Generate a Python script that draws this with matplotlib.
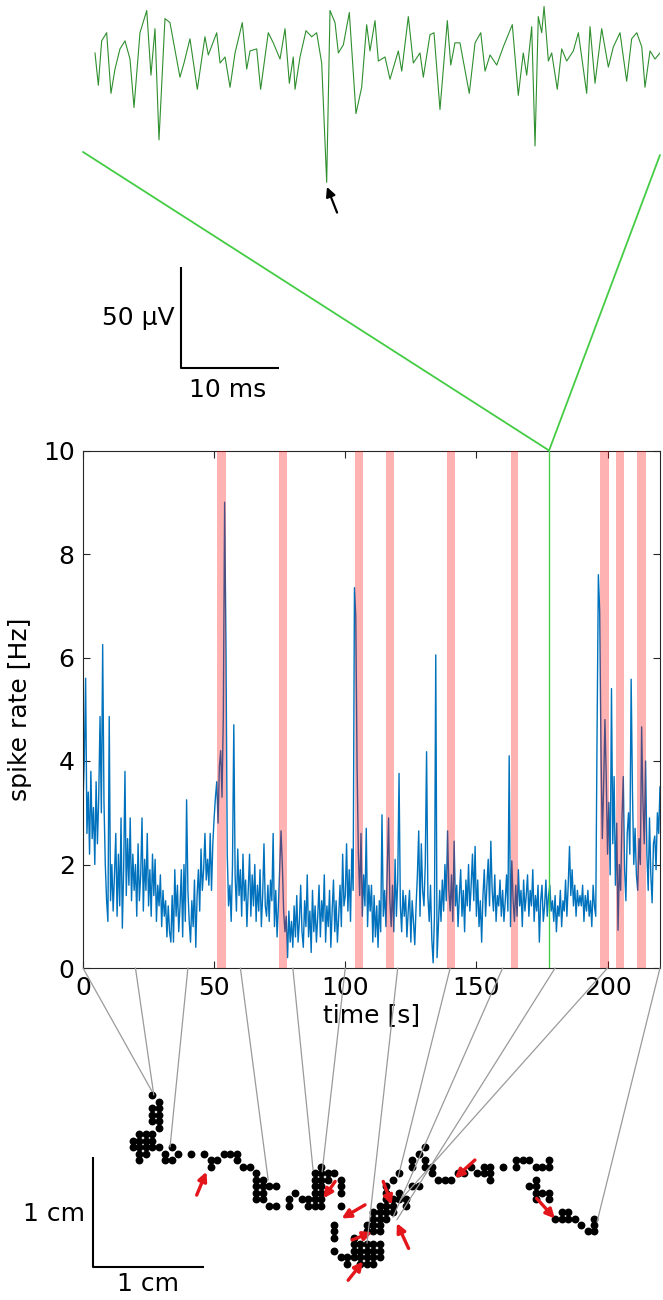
"""Spike rate over a session, with a zoomed raw trace above and the
animal's trajectory below (links mark positions at 20 s steps)."""
import numpy as np
import matplotlib
matplotlib.use("Agg")
import matplotlib.pyplot as plt
from matplotlib.patches import ConnectionPatch

plt.rcParams['font.family'] = 'DejaVu Sans'
plt.rcParams['font.size'] = 18

W, H, DPI = 663, 1300, 100

# ── spike rate (Hz), sampled every 0.5 s from 0 to 220 s ────────────────────
rate_hz = [
    3.2, 4.0, 5.6, 2.6, 3.4, 2.2, 3.8, 2.5, 3.1, 2.0, 3.6, 2.4, 3.3, 4.86, 3.0, 6.25, 3.2, 2.0, 1.3, 0.9,
    4.86, 1.3, 2.0, 1.1, 1.8, 2.6, 1.0, 2.2, 1.2, 2.9, 0.77, 1.9, 3.8, 1.4, 2.5, 1.6, 2.9, 1.3, 2.2, 1.5,
    2.0, 1.0, 2.4, 1.3, 1.8, 2.9, 1.1, 2.1, 1.5, 2.6, 1.2, 1.9, 1.0, 2.2, 1.4, 2.1, 0.9, 1.6, 1.2, 1.8,
    0.8, 1.5, 1.0, 1.3, 0.6, 1.2, 0.7, 0.5, 1.4, 0.5, 1.9, 1.0, 1.6, 0.7, 1.2, 1.9, 0.6, 2.0, 0.9, 3.25,
    1.5, 0.9, 0.5, 1.3, 0.8, 1.7, 0.4, 1.4, 1.9, 1.1, 2.3, 1.5, 1.9, 2.6, 1.7, 2.1, 1.6, 2.6, 1.5, 2.4,
    2.9, 3.3, 3.6, 2.8, 3.9, 4.2, 3.3, 4.85, 9.0, 6.3, 2.2, 1.2, 1.6, 0.9, 2.0, 4.7, 1.8, 1.1, 2.3, 1.4,
    1.9, 1.0, 2.2, 1.3, 1.7, 0.8, 1.5, 2.2, 1.0, 1.8, 1.2, 2.0, 0.9, 1.6, 1.1, 1.9, 0.8, 1.4, 2.4, 1.2,
    1.0, 1.6, 0.9, 1.7, 1.3, 2.6, 0.8, 1.5, 0.6, 1.2, 1.9, 2.65, 2.0, 1.1, 0.7, 1.0, 0.2, 1.1, 0.5, 0.9,
    0.4, 1.2, 0.6, 1.4, 0.5, 0.9, 1.6, 0.7, 0.4, 1.3, 0.8, 1.8, 0.6, 1.1, 0.3, 1.5, 0.7, 1.2, 0.5, 1.0,
    1.6, 0.6, 1.3, 0.9, 1.8, 0.5, 1.2, 0.8, 1.5, 0.4, 1.1, 1.7, 0.7, 1.3, 0.5, 1.0, 1.6, 0.8, 2.2, 1.2,
    1.4, 2.4, 1.1, 1.9, 0.9, 2.3, 1.5, 7.35, 6.8, 3.9, 2.2, 1.4, 2.6, 1.0, 1.8, 1.2, 2.7, 0.8, 1.6, 1.1,
    1.6, 0.5, 1.4, 0.6, 1.2, 0.4, 1.3, 0.7, 2.96, 1.0, 1.5, 0.8, 1.9, 2.9, 1.3, 0.8, 1.6, 0.7, 2.1, 1.0,
    1.7, 3.76, 1.2, 0.7, 1.5, 1.0, 1.4, 0.6, 1.1, 1.5, 0.5, 1.3, 0.9, 0.45, 1.2, 1.8, 2.65, 1.0, 2.4, 1.5,
    1.2, 2.0, 4.18, 1.4, 0.9, 1.6, 0.55, 0.1, 1.0, 6.05, 0.2, 0.8, 1.5, 0.9, 1.7, 1.1, 2.0, 1.3, 2.65, 1.5,
    1.1, 1.8, 0.9, 2.45, 1.2, 1.6, 0.8, 1.4, 1.9, 1.0, 1.5, 0.7, 1.7, 1.2, 2.0, 1.1, 1.6, 2.2, 1.3, 2.35,
    1.0, 1.7, 0.8, 1.3, 0.5, 1.4, 1.9, 1.0, 1.6, 2.1, 1.2, 2.45, 1.5, 1.1, 1.8, 0.9, 1.4, 1.2, 1.7, 1.0,
    1.5, 0.9, 1.3, 1.8, 1.1, 4.1, 0.8, 2.07, 1.3, 0.9, 1.6, 1.0, 1.9, 1.2, 1.5, 0.8, 1.7, 1.1, 1.4, 1.8,
    1.0, 1.5, 1.2, 1.9, 0.9, 1.4, 1.1, 1.6, 0.5, 1.3, 1.6, 0.9, 1.2, 1.7, 1.0, 1.4, 1.6, 1.1, 1.3, 0.9,
    1.4, 0.7, 1.2, 1.0, 1.5, 0.8, 1.3, 1.1, 1.7, 1.0, 1.6, 2.35, 1.4, 1.9, 1.2, 1.6, 1.0, 1.5, 1.2, 1.4,
    1.2, 1.6, 0.9, 1.4, 1.1, 1.5, 1.0, 1.3, 0.8, 1.6, 1.2, 1.0, 4.5, 7.6, 6.9, 4.2, 2.5, 3.5, 4.8, 3.7,
    2.2, 3.2, 1.8, 5.4, 2.4, 3.7, 1.6, 2.8, 0.73, 2.0, 1.5, 2.9, 3.7, 1.9, 1.3, 2.6, 3.0, 2.2, 5.58, 3.4,
    2.0, 2.7, 1.8, 1.5, 2.5, 2.0, 4.66, 3.2, 2.4, 4.0, 2.2, 1.5, 2.9, 1.8, 1.26, 2.4, 2.55, 1.9, 3.0, 2.6, 3.5,
]
rate_t = np.arange(len(rate_hz)) * 0.5

# event windows (s) shown as red bands
band_start = [51.2, 74.8, 103.6, 115.6, 138.6, 163.0, 197.2, 203.1, 211.3]
band_end = [54.4, 77.7, 106.8, 118.7, 141.7, 166.0, 200.4, 206.3, 214.5]

# time of the zoomed raw trace (s)
window_t = 177.7

# ── zoomed raw trace (ms, µV) ───────────────────────────────────────────────
trace_ms = [
    0.0, 0.34, 0.68, 1.19, 1.63, 2.04, 2.55, 3.06, 3.57, 3.98, 4.59, 5.28, 5.71, 6.12, 6.53,
    7.14, 7.65, 7.99, 8.67, 9.08, 9.69, 10.44, 11.22, 11.56, 12.42, 12.76, 13.27, 13.78, 14.29,
    15.03, 15.48, 15.82, 16.5, 16.9, 17.68, 18.19, 18.88, 19.39, 19.83, 20.23, 20.41, 20.92,
    21.53, 22.11, 22.62, 23.13, 23.64, 23.98, 24.49, 24.83, 25.34, 25.95, 26.63, 27.21, 27.72,
    28.06, 28.57, 28.91, 29.59, 30.1, 30.95, 31.3, 31.97, 32.48, 33.16, 33.5, 34.18, 34.59,
    35.2, 35.95, 36.3, 36.73, 37.24, 38.19, 38.78, 39.36, 39.8, 40.31, 40.99, 41.66, 42.58,
    43.19, 43.7, 44.05, 44.56, 44.9, 45.23, 45.58, 45.82, 46.26, 46.6, 47.17, 47.62, 48.13,
    48.81, 49.32, 50.17, 50.51, 51.02, 51.7, 52.38, 52.89, 53.57, 54.25, 54.76, 55.28, 55.79,
    56.12, 56.63, 57.14, 57.65,
]
trace_uv = [
    1, -15, 7, 11, -19, -7, 3, 7, -2, -26, 11, 22, -10, 13, -42,
    18, 16, 7, -11, -4, 8, -17, 9, 0, 11, -4, -1, -16, 1,
    16, -7, 2, 3, -17, 11, 6, -2, 13, -14, -1, -17, -1,
    12, 9, 11, -4, -63, 22, 16, 1, 5, 21, -29, -16, 15,
    2, 17, -3, -1, -12, 2, -8, 19, -4, 1, -11, 10, 11,
    -27, 17, -5, 6, 6, -19, 6, 11, -8, 0, -5, 4, 15,
    -20, 1, -10, 14, -45, 19, 11, 24, -3, 1, -17, 3, -3,
    2, 11, -19, 14, -14, 13, -6, 4, 11, -13, 8, 11, 4,
    -16, 2, -2, 1,
]

# ── trajectory: occupied position bins (column, row; row grows downward) ────
traj_cells = [
    (2, 0), (3, 1), (2, 2), (3, 2), (2, 3), (3, 3), (2, 4), (3, 4), (3, 5), (2, 6),
    (0, 6), (1, 6), (-1, 7), (0, 7), (1, 7), (2, 7), (-1, 8), (0, 8), (1, 8), (2, 8),
    (0, 9), (1, 9), (0, 10),
    (3, 8), (4, 9), (5, 8), (4, 10), (5, 10), (6, 9), (8, 9), (10, 9), (11, 10), (12, 10),
    (11, 11), (13, 9), (14, 9), (15, 9), (15, 10), (16, 11), (17, 11), (18, 12),
    (19, 13), (18, 13), (18, 14), (19, 14), (20, 14), (21, 14), (18, 15), (19, 15),
    (18, 16), (19, 16), (20, 17), (21, 17), (23, 17), (23, 16), (24, 15), (25, 16),
    (26, 16), (26, 17), (27, 17), (28, 17),
    (28, 11), (27, 12), (28, 12), (29, 12), (30, 12), (27, 13), (28, 13), (29, 13),
    (27, 14), (28, 14), (27, 15), (28, 15), (27, 16), (28, 16),
    (31, 13), (31, 14), (31, 15), (31, 17), (30, 20), (30, 21), (30, 22),
    (30, 24), (31, 25), (32, 25), (32, 26), (33, 22), (33, 23), (34, 23), (35, 23),
    (36, 23), (37, 23), (33, 24), (34, 24), (35, 24), (36, 24), (37, 24), (33, 25),
    (34, 25), (35, 25), (36, 25), (37, 25), (34, 26), (35, 26), (36, 26),
    (35, 21), (36, 21), (37, 21), (35, 20), (36, 20), (37, 20), (36, 19), (37, 19),
    (38, 19), (36, 18), (37, 18), (38, 18), (39, 18), (37, 17), (38, 17), (39, 17),
    (38, 16), (39, 16), (40, 16), (38, 15), (40, 15), (38, 14), (39, 13), (40, 12),
    (42, 14), (43, 14), (41, 16), (41, 17),
    (42, 10), (43, 9), (44, 8), (44, 10), (44, 11), (42, 11), (45, 11), (45, 12),
    (46, 13), (47, 13), (48, 13),
    (49, 12), (50, 12), (51, 11), (52, 12), (53, 11), (54, 11), (53, 12), (54, 12), (54, 13),
    (56, 11), (58, 11), (58, 10), (59, 10), (60, 10), (61, 11), (62, 11), (63, 10), (63, 11),
    (61, 13), (60, 14), (61, 14), (61, 15), (62, 15), (63, 15), (63, 16), (61, 16),
    (64, 19), (65, 18), (66, 18), (65, 19), (66, 19), (67, 19), (68, 20), (69, 21),
    (70, 21), (70, 20), (70, 19),
]
CELLS_PER_CM = 17

# position at every 20 s (links from the time axis)
link_t = [0, 20, 40, 60, 80, 100, 120, 140, 160, 180, 200, 220]
link_col = [1.9, 2.2, 4.7, 19.8, 26.7, 28.1, 35.0, 39.8, 39.0, 39.6, 40.1, 70.4]
link_row = [-0.6, 0.0, 8.0, 13.1, 11.5, 11.8, 22.8, 12.6, 18.8, 19.2, 16.2, 19.5]

# positions during the red-band events (arrow tail -> head)
event_tail = [(8.8, 15.4), (30.1, 13.3), (34.7, 16.9), (32.7, 22.3), (32.1, 28.5),
              (37.5, 13.3), (41.4, 23.6), (51.6, 10.0), (61.1, 15.9)]
event_head = [(10.3, 11.8), (28.3, 15.9), (31.1, 19.0), (35.8, 21.1), (34.4, 25.6),
              (38.8, 16.9), (39.6, 19.7), (48.5, 12.8), (63.9, 19.0)]

BLUE = '#0072BD'
GREEN_TRACE = '#2f8f2f'
GREEN_LINK = '#44cc44'
RED = '#e3161b'


def px_axes(fig, x0, y0, x1, y1):
    """Axes placed by a pixel box measured from the top-left corner."""
    return fig.add_axes([x0 / W, 1 - y1 / H, (x1 - x0) / W, (y1 - y0) / H])


fig = plt.figure(figsize=(W / DPI, H / DPI), dpi=DPI)

# ── main spike-rate panel ───────────────────────────────────────────────────
ax = px_axes(fig, 83, 450.5, 660, 968)
ax.plot(rate_t, rate_hz, color=BLUE, lw=1.0, zorder=2)
for s, e in zip(band_start, band_end):
    ax.axvspan(s, e, color='red', alpha=0.3, lw=0, zorder=3)
ax.axvline(window_t, color=GREEN_LINK, lw=1.0, zorder=4)
ax.set_xlim(0, 220)
ax.set_ylim(0, 10)
ax.set_xticks([0, 50, 100, 150, 200])
ax.set_yticks([0, 2, 4, 6, 8, 10])
ax.tick_params(direction='in', top=True, right=True, length=5, width=0.8,
               labelsize=18, pad=6, color='#262626')
for sp in ax.spines.values():
    sp.set_color('#262626')
    sp.set_linewidth(0.8)
ax.set_xlabel('time [s]', fontsize=18, labelpad=2)
ax.set_ylabel('spike rate [Hz]', fontsize=18, labelpad=8)

# ── zoomed raw trace with scale bars ────────────────────────────────────────
ax_top = px_axes(fig, 83, 0, 660, 410)
ax_top.plot(trace_ms, trace_uv, color=GREEN_TRACE, lw=0.8)
ax_top.set_xlim(-1.224, 57.65)
ax_top.set_ylim(-175.7, 27.2)
ax_top.axis('off')
ax_top.plot([8.776, 8.776, 18.776], [-105, -155, -155], color='k', lw=1.5,
            solid_capstyle='butt')
ax_top.text(8.1, -130, '50 µV', ha='right', va='center', fontsize=18)
ax_top.text(13.5, -160, '10 ms', ha='center', va='top', fontsize=18)
ax_top.annotate('', xy=(23.67, -65.3), xytext=(24.7, -78),
                arrowprops=dict(arrowstyle='-|>', color='k', lw=1.6,
                                mutation_scale=14, shrinkA=0, shrinkB=0))

for corner in [(-1.224, -48.0), (57.65, -49.5)]:
    con = ConnectionPatch(xyA=(window_t, 10), coordsA=ax.transData,
                          xyB=corner, coordsB=ax_top.transData,
                          color=GREEN_LINK, lw=1.3)
    fig.add_artist(con)

# ── trajectory ──────────────────────────────────────────────────────────────
ax_tr = px_axes(fig, 0, 1075, 663, 1300)
ax_tr.set_xlim(-21.46, 80.54)
ax_tr.set_ylim(31.54, -3.08)
ax_tr.axis('off')
traj_col = [c for c, r in traj_cells]
traj_row = [r for c, r in traj_cells]
ax_tr.scatter(traj_col, traj_row, s=32, color='k', lw=0, zorder=3)

for tail, head in zip(event_tail, event_head):
    ax_tr.annotate('', xy=head, xytext=tail,
                   arrowprops=dict(arrowstyle='-|>', color=RED, lw=2.4,
                                   mutation_scale=13, shrinkA=0, shrinkB=0),
                   zorder=5)

# 1 cm scale bars
bx, by = -7.15, 26.5
ax_tr.plot([bx, bx, bx + CELLS_PER_CM], [by - CELLS_PER_CM, by, by],
           color='k', lw=1.5, solid_capstyle='butt')
ax_tr.text(bx - 1.3, by - CELLS_PER_CM / 2 + 0.3, '1 cm', ha='right', va='center',
           fontsize=18)
ax_tr.text(bx + CELLS_PER_CM / 2, by + 0.7, '1 cm', ha='center', va='top',
           fontsize=18)

for t, c, r in zip(link_t, link_col, link_row):
    con = ConnectionPatch(xyA=(t, 0), coordsA=ax.transData,
                          xyB=(c, r), coordsB=ax_tr.transData,
                          color='#9a9a9a', lw=0.9, zorder=4)
    fig.add_artist(con)

fig.savefig('out.png', dpi=DPI)
plt.close(fig)
